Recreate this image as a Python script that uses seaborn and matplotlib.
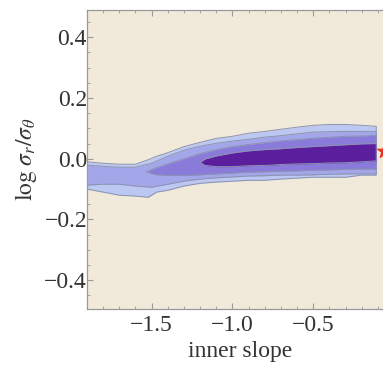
import numpy as np
import pandas as pd
import matplotlib
matplotlib.use("Agg")
import matplotlib.pyplot as plt
from matplotlib.ticker import MultipleLocator
import seaborn as sns

# ---- data (contour boundaries per level) ----
l1_x = [-1.9, -1.8, -1.7, -1.6, -1.52, -1.47, -1.4, -1.3, -1.2, -1.1, -1.0, -0.9, -0.8, -0.7, -0.6, -0.5, -0.4, -0.3, -0.2, -0.11]
l1_hi = [-0.01, -0.015, -0.018, -0.018, -0.003, 0.008, 0.02, 0.04, 0.054, 0.067, 0.074, 0.084, 0.09, 0.097, 0.104, 0.11, 0.113, 0.113, 0.11, 0.107]
l1_lo = [-0.10, -0.11, -0.12, -0.123, -0.127, -0.11, -0.104, -0.09, -0.081, -0.077, -0.074, -0.071, -0.071, -0.067, -0.064, -0.061, -0.061, -0.061, -0.054, -0.054]

l2_x = [-1.9, -1.8, -1.7, -1.6, -1.5, -1.4, -1.3, -1.2, -1.1, -1.0, -0.9, -0.8, -0.7, -0.6, -0.5, -0.4, -0.3, -0.2, -0.11]
l2_hi = [-0.021, -0.025, -0.028, -0.028, -0.015, 0.008, 0.028, 0.041, 0.051, 0.058, 0.064, 0.071, 0.076, 0.082, 0.088, 0.089, 0.09, 0.09, 0.09]
l2_lo = [-0.087, -0.084, -0.084, -0.09, -0.094, -0.084, -0.074, -0.067, -0.063, -0.06, -0.057, -0.056, -0.054, -0.054, -0.053, -0.051, -0.05, -0.05, -0.05]

l3_x = [-1.53, -1.48, -1.4, -1.3, -1.2, -1.1, -1.0, -0.9, -0.8, -0.7, -0.6, -0.5, -0.4, -0.3, -0.2, -0.11]
l3_hi = [-0.043, -0.031, -0.017, 0.0, 0.017, 0.03, 0.04, 0.047, 0.053, 0.059, 0.063, 0.068, 0.071, 0.074, 0.075, 0.077]
l3_lo = [-0.043, -0.052, -0.055, -0.055, -0.053, -0.05, -0.047, -0.044, -0.043, -0.041, -0.04, -0.038, -0.037, -0.035, -0.034, -0.034]

l4_x = [-1.2, -1.17, -1.1, -1.0, -0.9, -0.8, -0.7, -0.6, -0.5, -0.4, -0.3, -0.2, -0.11]
l4_hi = [-0.012, -0.001, 0.009, 0.019, 0.026, 0.03, 0.033, 0.037, 0.04, 0.043, 0.046, 0.049, 0.05]
l4_lo = [-0.012, -0.022, -0.026, -0.026, -0.023, -0.022, -0.019, -0.017, -0.016, -0.014, -0.013, -0.01, -0.007]

star_x = [-0.06]
star_y = [0.025]

x_ticks = [-1.5, -1.0, -0.5]
y_ticks = [-0.4, -0.2, 0.0, 0.2, 0.4]

levels = [
    (l1_x, l1_hi, l1_lo, "#BCC8F1"),
    (l2_x, l2_hi, l2_lo, "#A3A7EA"),
    (l3_x, l3_hi, l3_lo, "#8A7BDB"),
    (l4_x, l4_hi, l4_lo, "#5B1E9C"),
]

sns.set_style("ticks")
plt.rcParams["font.family"] = ["Liberation Serif", "DejaVu Serif"]
plt.rcParams["mathtext.fontset"] = "stix"

fig = plt.figure(figsize=(3.83, 3.69), dpi=100)
ax = fig.add_axes([87 / 383, 60 / 369, 307 / 383, 299 / 369])
ax.set_facecolor("#F1E9D9")

for i, (xs, hi, lo, col) in enumerate(levels):
    ax.fill_between(xs, lo, hi, color=col, linewidth=0, zorder=2 + i)
    px = list(xs) + list(xs[::-1]) + [xs[0]]
    py = list(hi) + list(lo[::-1]) + [hi[0]]
    sns.lineplot(x=px, y=py, sort=False, estimator=None, color="#8C93AE",
                 linewidth=0.7, ax=ax, zorder=2.5 + i)

sns.scatterplot(x=star_x, y=star_y, marker="*", s=110, color="#E8321E",
                edgecolor="#E8321E", ax=ax, zorder=10, clip_on=False)

ax.set_xlim(-1.9, 0.0)
ax.set_ylim(-0.495, 0.49)
ax.set_xticks(x_ticks)
ax.set_yticks(y_ticks)
ax.set_xticklabels([f"{v:.1f}".replace("-", "\u2212") for v in x_ticks])
ax.set_yticklabels([f"{v:.1f}".replace("-", "\u2212") for v in y_ticks])
ax.xaxis.set_minor_locator(MultipleLocator(0.1))
ax.yaxis.set_minor_locator(MultipleLocator(0.05))
ax.tick_params(which="both", direction="in", top=True, right=True,
               color="#9A9A9A", labelcolor="#333333", labelsize=17)
ax.tick_params(which="major", length=4, width=0.8)
ax.tick_params(which="minor", length=2, width=0.6)
ax.tick_params(axis="x", which="major", pad=4)
ax.tick_params(axis="y", which="major", pad=0)
for s in ax.spines.values():
    s.set_color("#9A9A9A")
    s.set_linewidth(0.9)

ax.set_xlabel("inner slope", fontsize=17, color="#333333", labelpad=4)
ax.set_ylabel(r"$\log\,\sigma_r/\sigma_\theta$", fontsize=17, color="#333333", labelpad=4)

fig.savefig("out.png", dpi=100)
